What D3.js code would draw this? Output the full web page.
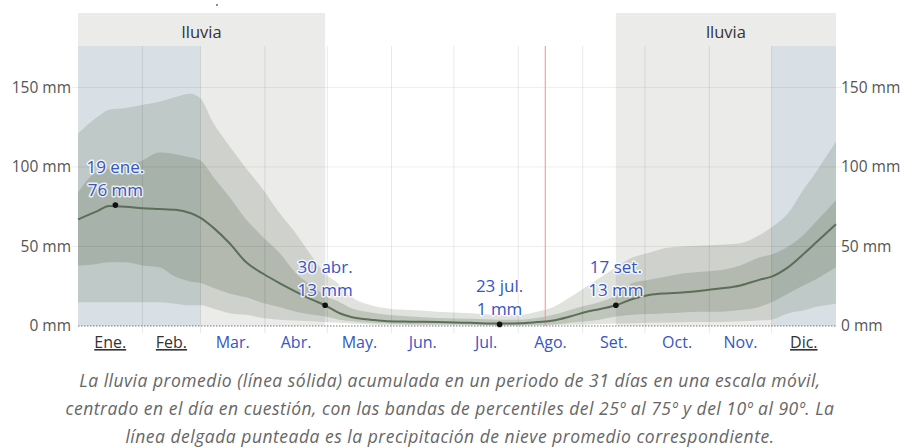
<!DOCTYPE html>
<html>
<head>
<meta charset="utf-8">
<script src="https://cdn.jsdelivr.net/npm/d3@7"></script>
<style>
  body { margin:0; background:#fff; }
  svg text { font-family: "Open Sans", "Noto Sans", sans-serif; }
</style>
</head>
<body>
<div id="chart"></div>
<script>
// day of year (0 = 1 ene.) and rainfall percentiles, mm over a 31-day window
const days = [0, 9, 15, 23, 31, 39, 47, 54, 59, 65, 73, 81, 89, 97, 105, 113, 119, 126, 132, 141, 149, 160, 173, 189, 203, 213, 221, 229, 237, 245, 251, 259, 267, 275, 283, 291, 299, 309, 319, 328, 334, 342, 350, 355, 360, 365];
const rainMean = [67, 72, 75.5, 75, 74, 73.5, 73, 71, 68, 62, 52, 40, 33, 27, 21.5, 16.4, 13, 8, 5.5, 4, 3, 2.7, 2.5, 2, 1.5, 1.7, 2.5, 3.5, 6, 9, 10.5, 13, 17, 19.5, 20.5, 21, 22, 23.5, 25.5, 29, 31, 37, 46, 52, 58, 64];
const rainP10 = [15, 15, 15, 15, 15, 15, 14, 13, 13, 11, 8, 7, 5, 4, 3.5, 3, 2.5, 2, 1.5, 1, 0.5, 0.5, 0.3, 0.2, 0.2, 0.2, 0.3, 0.5, 0.8, 1, 1.2, 1.5, 1.8, 2, 2.2, 2.4, 2.5, 2.5, 3, 3.5, 4, 8, 10, 12, 13, 14];
const rainP25 = [38, 39, 40, 40, 38, 37, 31, 28, 27, 24, 20.5, 18, 14.5, 12, 9, 7, 6, 4, 3, 2, 1.5, 1, 1, 0.8, 0.5, 0.5, 0.7, 1, 2, 3, 4, 6, 7, 7.5, 8, 8.5, 9, 9, 10, 12, 15, 20.5, 26, 29, 33, 37];
const rainP75 = [84, 97, 99, 101, 104, 109, 108, 106, 104, 94, 81, 67, 56, 46, 33, 25, 19, 15, 11, 8.5, 7, 6, 5, 4.5, 4, 4, 5, 7, 10, 13, 15, 19, 27, 29, 31, 33, 34, 35, 38, 43, 45, 50, 58, 65, 72, 79];
const rainP90 = [121, 131, 136, 137, 139, 141, 144, 146, 143, 128, 113, 99, 86, 71, 58, 43, 33, 26, 18, 13, 11, 10, 9, 8, 7, 7, 9, 12, 18, 25, 30, 37, 43, 46, 49, 50, 50.5, 51, 52, 57, 62, 71, 87, 96, 106, 116];

const monthNames = ["Ene.", "Feb.", "Mar.", "Abr.", "May.", "Jun.", "Jul.", "Ago.", "Set.", "Oct.", "Nov.", "Dic."];
const monthDays = [31, 28, 31, 30, 31, 30, 31, 31, 30, 31, 30, 31];
const yTicks = [0, 50, 100, 150];

const rainSeasons = [[0, 119], [259, 365]];   // "lluvia" periods
const blueSpans = [[0, 59], [334, 365]];      // shaded months
const todayDay = 225;

const peakDays = [18, 119, 203, 259];
const peakDates = ["19 ene.", "30 abr.", "23 jul.", "17 set."];
const peakValues = [76, 13, 1, 13];

const captionLines = [
  "La lluvia promedio (línea sólida) acumulada en un periodo de 31 días en una escala móvil,",
  "centrado en el día en cuestión, con las bandas de percentiles del 25º al 75º y del 10º al 90º. La",
  "línea delgada punteada es la precipitación de nieve promedio correspondiente."
];

const W = 900, H = 448;
const plot = {left: 78, right: 836, top: 46, bottom: 326, headTop: 13};

const svg = d3.select("#chart").append("svg").attr("width", W).attr("height", H);

const x = d3.scaleLinear().domain([0, 365]).range([plot.left, plot.right]);
const y = d3.scaleLinear().domain([0, 176]).range([plot.bottom, plot.top]);

const monthStarts = monthDays.reduce((acc, d) => { acc.push(acc[acc.length - 1] + d); return acc; }, [0]);

// season backgrounds
svg.selectAll("rect.season").data(rainSeasons).join("rect").attr("class", "season")
  .attr("x", d => x(d[0])).attr("width", d => x(d[1]) - x(d[0]))
  .attr("y", plot.headTop).attr("height", plot.bottom - plot.headTop)
  .attr("fill", "#ebebea");
svg.selectAll("text.season").data(rainSeasons).join("text").attr("class", "season")
  .attr("x", d => (x(d[0]) + x(d[1])) / 2).attr("y", 38)
  .attr("text-anchor", "middle").attr("font-size", 16.5).attr("fill", "#333").text("lluvia");

svg.selectAll("rect.blue").data(blueSpans).join("rect").attr("class", "blue")
  .attr("x", d => x(d[0])).attr("width", d => x(d[1]) - x(d[0]))
  .attr("y", plot.top).attr("height", plot.bottom - plot.top)
  .attr("fill", "#d8e0e5");

svg.append("circle").attr("cx", 217).attr("cy", 5).attr("r", 1).attr("fill", "#6a5acd");

const rows = days.map((d, i) => ({d, m: rainMean[i], p10: rainP10[i], p25: rainP25[i], p75: rainP75[i], p90: rainP90[i]}));

const band = (lo, hi) => d3.area().curve(d3.curveMonotoneX)
  .x(r => x(r.d)).y0(r => y(r[lo])).y1(r => y(r[hi]));

svg.append("path").datum(rows).attr("d", band("p10", "p90"))
  .attr("fill", "#5f6e55").attr("fill-opacity", 0.2);
svg.append("path").datum(rows).attr("d", band("p25", "p75"))
  .attr("fill", "#5f6e55").attr("fill-opacity", 0.25);

// grid
svg.append("g").selectAll("line").data(yTicks.filter(t => t > 0)).join("line")
  .attr("x1", 72).attr("x2", 842).attr("y1", d => y(d)).attr("y2", d => y(d))
  .attr("stroke", "#000").attr("stroke-opacity", 0.07);
svg.append("g").selectAll("line").data(monthStarts.slice(1, 12)).join("line")
  .attr("x1", d => x(d)).attr("x2", d => x(d)).attr("y1", plot.top).attr("y2", plot.bottom + 7)
  .attr("stroke", "#000").attr("stroke-opacity", 0.09);

svg.append("line").attr("x1", x(todayDay)).attr("x2", x(todayDay))
  .attr("y1", plot.top).attr("y2", plot.bottom).attr("stroke", "#ff8a8a").attr("stroke-width", 1);

svg.append("path").datum(rows)
  .attr("d", d3.line().curve(d3.curveMonotoneX).x(r => x(r.d)).y(r => y(r.m)))
  .attr("fill", "none").attr("stroke", "#5b6e57").attr("stroke-width", 2);

// snow line (zero)
svg.append("line").attr("x1", plot.left).attr("x2", plot.right).attr("y1", y(0)).attr("y2", y(0))
  .attr("stroke", "#777").attr("stroke-dasharray", "1.5,1.5");

// axes labels
const yAxisL = d3.axisLeft(y).tickValues(yTicks).tickFormat(d => d + " mm").tickSize(0).tickPadding(6);
const yAxisR = d3.axisRight(y).tickValues(yTicks).tickFormat(d => d + " mm").tickSize(0).tickPadding(5);
[svg.append("g").attr("transform", `translate(${plot.left - 1},0)`).call(yAxisL),
 svg.append("g").attr("transform", `translate(${plot.right},0)`).call(yAxisR)].forEach(g => {
  g.select(".domain").remove();
  g.selectAll("text").attr("font-size", 15.5).attr("fill", "#555").attr("font-family", "Open Sans");
});

svg.append("g").selectAll("text").data(monthNames).join("text")
  .attr("x", (d, i) => x(monthStarts[i] + monthDays[i] / 2)).attr("y", 348)
  .attr("text-anchor", "middle").attr("font-size", 16)
  .attr("fill", (d, i) => (i < 2 || i === 11) ? "#333" : "#3556c4")
  .attr("text-decoration", (d, i) => (i < 2 || i === 11) ? "underline" : null)
  .text(d => d);

// peak annotations
const ann = svg.append("g").selectAll("g").data(peakDays).join("g");
ann.append("circle").attr("cx", d => x(d)).attr("cy", (d, i) => y(peakValues[i])).attr("r", 2.8).attr("fill", "#111");
[[peakDates, -32], [peakValues.map(v => v + " mm"), -9]].forEach(([labels, dy]) => {
  ann.append("text").attr("x", d => x(d)).attr("y", (d, i) => y(peakValues[i]) + dy)
    .attr("text-anchor", "middle").attr("font-size", 17).attr("fill", "#3556c4")
    .attr("stroke", "#fff").attr("stroke-width", 3).attr("stroke-opacity", 0.8)
    .attr("paint-order", "stroke").attr("stroke-linejoin", "round")
    .text((d, i) => labels[i]);
});

svg.append("g").selectAll("text").data(captionLines).join("text")
  .attr("x", 450).attr("y", (d, i) => 387 + i * 28)
  .attr("text-anchor", "middle").attr("font-size", 17.5).attr("font-style", "italic")
  .attr("letter-spacing", 0.5).attr("fill", "#666").text(d => d);
</script>
</body>
</html>
